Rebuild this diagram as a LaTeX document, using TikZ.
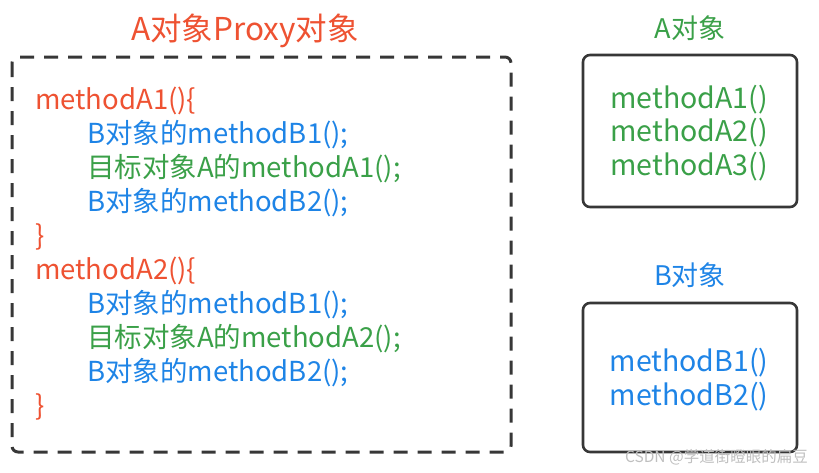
\documentclass[tikz,border=0pt]{standalone}
\usepackage{fontspec}
\setmainfont{Noto Sans CJK SC}
\definecolor{cred}{RGB}{238,82,50}
\definecolor{cblue}{RGB}{30,132,230}
\definecolor{cgreen}{RGB}{58,160,72}
\definecolor{cbox}{RGB}{55,55,55}
\begin{document}
\begin{tikzpicture}[x=1pt,y=-1pt,
  code/.style={anchor=base west,inner sep=0pt,font=\fontsize{27.5}{30}\selectfont},
  ttl/.style={anchor=base,inner sep=0pt,font=\fontsize{31.5}{34}\selectfont},
  lst/.style={anchor=base,inner sep=0pt,font=\fontsize{28.5}{32}\selectfont,align=center},
  dbox/.style={draw=cbox,line width=3pt,dash pattern=on 14pt off 10pt,rounded corners=6pt},
  sbox/.style={draw=cbox,line width=2.6pt,rounded corners=7pt}]
\useasboundingbox (0,0) rectangle (819,472);
\node[ttl,text=cred] (t1) at (245,40) {A对象Proxy对象};
\draw[dbox] (12,57) rectangle (511,452);
\node[code,text=cred] (l1) at (35,109) {methodA1()\{};
\node[code,text=cblue] (l2) at (87,143) {B对象的methodB1();};
\node[code,text=cgreen] (l3) at (87,177) {目标对象A的methodA1();};
\node[code,text=cblue] (l4) at (87,211) {B对象的methodB2();};
\node[code,text=cred] (l5) at (35,245) {\}};
\node[code,text=cred] (l6) at (35,279) {methodA2()\{};
\node[code,text=cblue] (l7) at (87,313) {B对象的methodB1();};
\node[code,text=cgreen] (l8) at (87,347) {目标对象A的methodA2();};
\node[code,text=cblue] (l9) at (87,381) {B对象的methodB2();};
\node[code,text=cred] (l10) at (35,415) {\}};
\node[ttl,text=cgreen,font=\fontsize{27}{30}\selectfont] (ta) at (690,38) {A对象};
\draw[sbox] (583,55) rectangle (797,207);
\node[lst,text=cgreen] (ma1) at (689,108) {methodA1()};
\node[lst,text=cgreen] (ma2) at (689,141) {methodA2()};
\node[lst,text=cgreen] (ma3) at (689,175) {methodA3()};
\node[ttl,text=cblue,font=\fontsize{27}{30}\selectfont] (tb) at (690,285) {B对象};
\draw[sbox] (583,303) rectangle (797,452);
\node[lst,text=cblue] (mb1) at (689,371) {methodB1()};
\node[lst,text=cblue] (mb2) at (689,405) {methodB2()};
\node[anchor=base east,inner sep=0pt,text=black!25,font=\fontsize{15.5}{17}\selectfont] (wm) at (808,462) {CSDN @学道街瞪眼的扁豆};
\end{tikzpicture}
\end{document}
